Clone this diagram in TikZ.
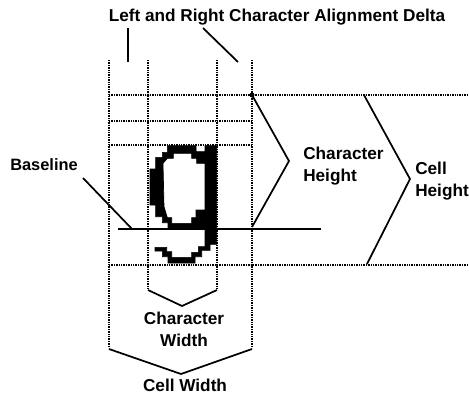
\documentclass[tikz,border=0pt]{standalone}
\usepackage{fontspec}
\setmainfont{Liberation Sans}
\begin{document}
\begin{tikzpicture}[
  x=0.75pt, y=-0.75pt,
  gridline/.style={line width=1.1pt, dash pattern=on 1pt off 0.8pt},
  leader/.style={line width=1.3pt},
  label/.style={font=\fontsize{12.9}{16.5}\selectfont\bfseries, inner sep=0pt, align=center}
]
\useasboundingbox (0,0) rectangle (469,394);

% grid
\coordinate (cellL) at (109,60);
\coordinate (charL) at (148,60);
\coordinate (charR) at (217,60);
\coordinate (cellR) at (252,60);
\coordinate (cellTop) at (109,95);
\coordinate (cellBot) at (109,265);

\draw[gridline] (cellL) -- (109,348);
\draw[gridline] (charL) -- (148,290);
\draw[gridline] (charR) -- (217,290);
\draw[gridline] (cellR) -- (252,348);
\draw[gridline] (cellTop) -- (469,95);
\draw[gridline] (109,121) -- (252,121);
\draw[gridline] (109,145) -- (252,145);
\draw[gridline] (cellBot) -- (469,265);

% glyph
\begin{scope}[shift={(90,50)}, x=0.25pt, y=-0.25pt]
\filldraw[even odd rule, line width=0.5pt] (232,287) -- (318,287) -- (318,305) -- (345,305) -- (345,287) -- (380,287)
  -- (380,583) -- (360,583) -- (360,601) -- (335,601) -- (335,620) -- (315,620) -- (315,639)
  -- (234,639) -- (234,620) -- (217,620) -- (217,603) -- (195,603) -- (195,592) -- (230,592)
  -- (230,605) -- (245,605) -- (245,622) -- (305,622) -- (305,607) -- (325,607) -- (325,590)
  -- (345,590) -- (345,535) -- (234,535)
  -- (234,518) -- (217,518) -- (217,500) -- (197,500) -- (197,465) -- (180,465) -- (180,357)
  -- (197,357) -- (197,322) -- (217,322) -- (217,307) -- (232,307) -- cycle
  (250,310) -- (305,310) -- (305,325) -- (320,325) -- (320,340) -- (345,340) -- (345,480)
  -- (318,480) -- (318,503) -- (305,503) -- (305,520) -- (245,520) -- (245,503) -- (232,503)
  -- (222,470) -- (219,340) -- (232,325) -- (250,325) -- cycle;
\end{scope}

% corner dots
\foreach \px/\py/\dotsize in {148/95/1.5, 217/95/1.2, 252/95/2.5, 148/265/1.5, 217/265/1.2, 252/265/1.5}
  \fill (\px,\py) circle (\dotsize);

% brackets
\draw[leader] (252,95) -- (289,161) -- (252,227);
\draw[leader] (364,95) -- (410,179) -- (367,264);
\draw[leader] (148,290) -- (182,306) -- (217,290);
\draw[leader] (109,349) -- (181,374) -- (252,349);

% baseline
\draw[leader] (118,229) -- (321,229);

% leaders
\coordinate (baseEnd) at (132,229);
\node[label, font=\fontsize{12.3}{15}\selectfont\bfseries] (baseline) at (44,165) {Baseline};
\draw[leader] (83,178) -- (baseEnd);
\node[label] (delta) at (277,17) {Left and Right Character Alignment Delta};
\draw[leader] (128,28) -- (128,62);
\draw[leader] (203,28) -- (238,62);

\node[label, anchor=west, align=left] (charHeight) at (303,166) {Character\\Height};
\node[label, anchor=west, align=left] (cellHeight) at (415,181) {Cell\\Height};
\node[label] (charWidth) at (184,329) {Character\\Width};
\node[label] (cellWidth) at (185,385) {Cell Width};
\end{tikzpicture}
\end{document}
